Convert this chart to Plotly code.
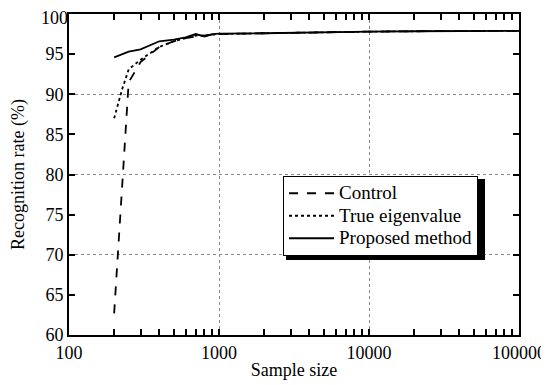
import plotly.graph_objects as go

sample_size = [200, 225, 250, 300, 400, 500, 600, 700, 800, 900, 1000, 2000, 5000, 10000, 20000, 50000, 100000]
control = [62.7, 78.5, 91.5, 94.0, 95.9, 96.6, 97.0, 97.2, 97.3, 97.4, 97.5, 97.6, 97.75, 97.8, 97.85, 97.9, 97.9]
true_eig = [87.0, 90.5, 93.1, 94.3, 95.9, 96.6, 97.0, 97.3, 97.3, 97.4, 97.5, 97.6, 97.75, 97.8, 97.85, 97.9, 97.9]
proposed = [94.6, 95.0, 95.3, 95.6, 96.6, 96.8, 97.1, 97.5, 97.2, 97.5, 97.55, 97.6, 97.75, 97.8, 97.85, 97.9, 97.9]
series_names = ["Control", "True eigenvalue", "Proposed method"]
x_ticks = [100, 1000, 10000, 100000]
x_labels = ["100", "1000", "10000", "100000"]
y_ticks = [60, 65, 70, 75, 80, 85, 90, 95]
y_top_tick = [100]

FONT = "Liberation Serif, Times New Roman, serif"
FS = 18
LEG_FS = 19

def leg(name):
    return f'<span style="font-size:{LEG_FS}px">{name}</span>'

fig = go.Figure()
for yv, name, dash in zip([control, true_eig, proposed], series_names, ["dash", "dot", "solid"]):
    fig.add_trace(go.Scatter(x=sample_size, y=yv, mode="lines", name=leg(name),
                             line=dict(color="black", width=1.8, dash=dash)))
# invisible copy on the helper axis so that the top "100" label is drawn
fig.add_trace(go.Scatter(x=sample_size, y=proposed, mode="lines", yaxis="y2",
                         showlegend=False, hoverinfo="skip", opacity=0,
                         line=dict(color="white", width=0)))

# page has an 8px body margin; work in screen coordinates and shift
OFF = 8
W, H = 549 - OFF, 385 - OFF
PL, PR, PT, PB = 69, 519, 14, 335  # plot area in screen pixels
L, T = PL - OFF, PT - OFF
R, B = W - (PR - OFF), H - (PB - OFF)
pw, ph = PR - PL, PB - PT

def px(xs):
    return (xs - PL) / pw

def py(ys):
    return (PB - ys) / ph

# legend shadow
fig.add_shape(type="rect", xref="paper", yref="paper",
              x0=px(286), x1=px(485), y0=py(260), y1=py(179),
              fillcolor="black", line=dict(width=0), layer="above")

fig.update_layout(
    width=W, height=H,
    margin=dict(l=L, r=R, t=T, b=B, autoexpand=False),
    paper_bgcolor="white", plot_bgcolor="white",
    font=dict(family=FONT, size=FS, color="black"),
    showlegend=True,
    legend=dict(x=px(283), y=py(176), xanchor="left", yanchor="top",
                bgcolor="white", bordercolor="black", borderwidth=1,
                font=dict(family=FONT, size=15), tracegroupgap=0,
                itemwidth=45),
    yaxis2=dict(overlaying="y", matches="y", side="left", range=[60, 100],
                tickvals=y_top_tick, ticks="", showline=False, showgrid=False,
                zeroline=False, automargin=False, ticklabeloverflow="allow",
                ticklabelshift=4, tickfont=dict(family=FONT, size=FS, color="black")),
)
fig.update_xaxes(type="log", range=[2, 5], tickvals=x_ticks, ticktext=x_labels,
                 ticks="inside", ticklen=6, tickwidth=1.5, tickcolor="black",
                 showline=True, linecolor="black", linewidth=2, mirror="allticks",
                 showgrid=True, gridcolor="#888", griddash="dot", gridwidth=1,
                 zeroline=False, automargin=False, ticklabeloverflow="allow",
                 minor=dict(ticks="inside", ticklen=3, tickcolor="black", dtick="D1", showgrid=False),
                 title=dict(text="Sample size", font=dict(family=FONT, size=FS), standoff=2))
fig.update_layout(yaxis=dict(range=[60, 100], tickvals=y_ticks,
                 ticks="inside", ticklen=6, tickwidth=1.5, tickcolor="black",
                 showline=True, linecolor="black", linewidth=2, mirror="allticks",
                 showgrid=False, zeroline=False, automargin=False, ticklabeloverflow="allow",
                 minor=dict(tickvals=[70, 80, 90], showgrid=True, gridcolor="#888",
                            griddash="dot", gridwidth=1, ticks=""),
                 title=dict(text="Recognition rate (%)", font=dict(family=FONT, size=FS), standoff=17)))

fig.write_html("out.html")
